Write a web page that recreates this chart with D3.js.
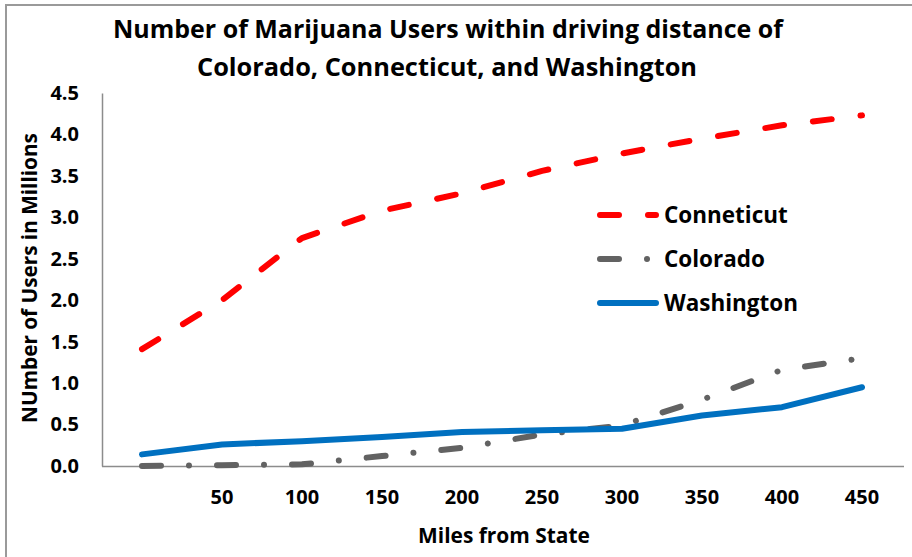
<!DOCTYPE html>
<html>
<head>
<meta charset="utf-8">
<script src="https://cdn.jsdelivr.net/npm/d3@7"></script>
<style>
  html, body { margin: 0; padding: 0; background: #fff; }
  svg { display: block; }
  text { font-family: "Open Sans", Lato, sans-serif; font-weight: bold; fill: #000; }
</style>
</head>
<body>
<svg id="chart" width="912" height="557"></svg>
<script>
// Distance bands (miles from state); the first band carries no label
const categories = ["0", "50", "100", "150", "200", "250", "300", "350", "400", "450"];
const tickLabels = ["", "50", "100", "150", "200", "250", "300", "350", "400", "450"];
const yTicks = [0, 0.5, 1, 1.5, 2, 2.5, 3, 3.5, 4, 4.5];

// Users within driving distance, in millions
const connecticut = [1.41, 2.0, 2.75, 3.08, 3.29, 3.56, 3.77, 3.95, 4.11, 4.23];
const colorado    = [0.0, 0.01, 0.02, 0.12, 0.22, 0.38, 0.49, 0.80, 1.16, 1.30];
const washington  = [0.14, 0.26, 0.30, 0.35, 0.41, 0.43, 0.45, 0.61, 0.71, 0.95];

const seriesNames = ["Conneticut", "Colorado", "Washington"];
const seriesColors = ["#FF0000", "#626262", "#0070C0"];
const seriesDash = ["19,29", "19,28,0.01,28", null];

const svg = d3.select("#chart");
const plotLeft = 102, plotRight = 902, plotTop = 93, plotBottom = 466;

// Scale a text element's font size so it spans the given width
function fitWidth(sel, width) {
  const node = sel.node();
  const size = parseFloat(sel.attr("font-size"));
  const len = node.getComputedTextLength();
  sel.attr("font-size", (size * width / len).toFixed(2));
  return sel;
}

// Outer frame
svg.append("rect")
  .attr("x", 6).attr("y", 5).attr("width", 1000).attr("height", 1000)
  .attr("fill", "none").attr("stroke", "#9a9a9a").attr("stroke-width", 2);

const x = d3.scaleBand().domain(categories).range([plotLeft, plotRight]);
const y = d3.scaleLinear().domain([0, 4.5]).range([plotBottom, plotTop]);

// Title, two centred lines
fitWidth(svg.append("text").attr("text-anchor", "middle").attr("font-size", 24)
  .attr("x", 448).attr("y", 38).text("Number of Marijuana Users within driving distance of"), 670);
fitWidth(svg.append("text").attr("text-anchor", "middle").attr("font-size", 24)
  .attr("x", 447).attr("y", 76).text("Colorado, Connecticut, and Washington"), 500);

// Y axis
const yAxis = svg.append("g")
  .attr("transform", `translate(${plotLeft},0)`)
  .call(d3.axisLeft(y).tickValues(yTicks).tickFormat(d3.format(".1f")).tickSize(0).tickPadding(23));
yAxis.select(".domain").attr("stroke", "#8c8c8c").attr("stroke-width", 1.5);
yAxis.selectAll(".tick text").attr("font-size", 20).attr("font-family", "'Open Sans', sans-serif").attr("font-weight", "bold").attr("fill", "#000");

// X axis
const xAxis = svg.append("g")
  .attr("transform", `translate(0,${plotBottom})`)
  .call(d3.axisBottom(x).tickFormat((d, i) => tickLabels[i]).tickSize(0).tickPadding(24));
xAxis.select(".domain").attr("stroke", "#8c8c8c").attr("stroke-width", 1.5)
  .attr("d", `M${plotLeft},0.5H904`);
xAxis.selectAll(".tick text").attr("font-size", 20).attr("font-family", "'Open Sans', sans-serif").attr("font-weight", "bold").attr("fill", "#000");

// Axis titles
fitWidth(svg.append("text").attr("text-anchor", "middle").attr("font-size", 20)
  .attr("transform", "translate(37,278) rotate(-90)")
  .text("NUmber of Users in Millions"), 290);
fitWidth(svg.append("text").attr("text-anchor", "middle").attr("font-size", 20)
  .attr("x", 504).attr("y", 543).text("Miles from State"), 172);

// Series lines
const line = d3.line()
  .x((d, i) => x(categories[i]) + x.bandwidth() / 2)
  .y(d => y(d));

[connecticut, colorado, washington].forEach((vals, k) => {
  svg.append("path")
    .datum(vals)
    .attr("d", line)
    .attr("fill", "none")
    .attr("stroke", seriesColors[k])
    .attr("stroke-width", 6)
    .attr("stroke-linecap", "round")
    .attr("stroke-linejoin", "round")
    .attr("stroke-dasharray", seriesDash[k]);
});

// Legend
const legendRows = [215, 259, 303];
const legendSize = (() => {
  const probe = svg.append("text").attr("font-size", 21).text("Washington");
  const s = 21 * 134 / probe.node().getComputedTextLength();
  probe.remove();
  return s;
})();
seriesNames.forEach((name, k) => {
  const g = svg.append("g").attr("transform", `translate(0,${legendRows[k]})`);
  g.append("line")
    .attr("x1", 600).attr("x2", 656).attr("y1", 0).attr("y2", 0)
    .attr("stroke", seriesColors[k]).attr("stroke-width", 6)
    .attr("stroke-linecap", "round")
    .attr("stroke-dasharray", seriesDash[k]);
  g.append("text").attr("x", 664).attr("y", 8).attr("font-size", legendSize.toFixed(2)).text(name);
});
</script>
</body>
</html>
